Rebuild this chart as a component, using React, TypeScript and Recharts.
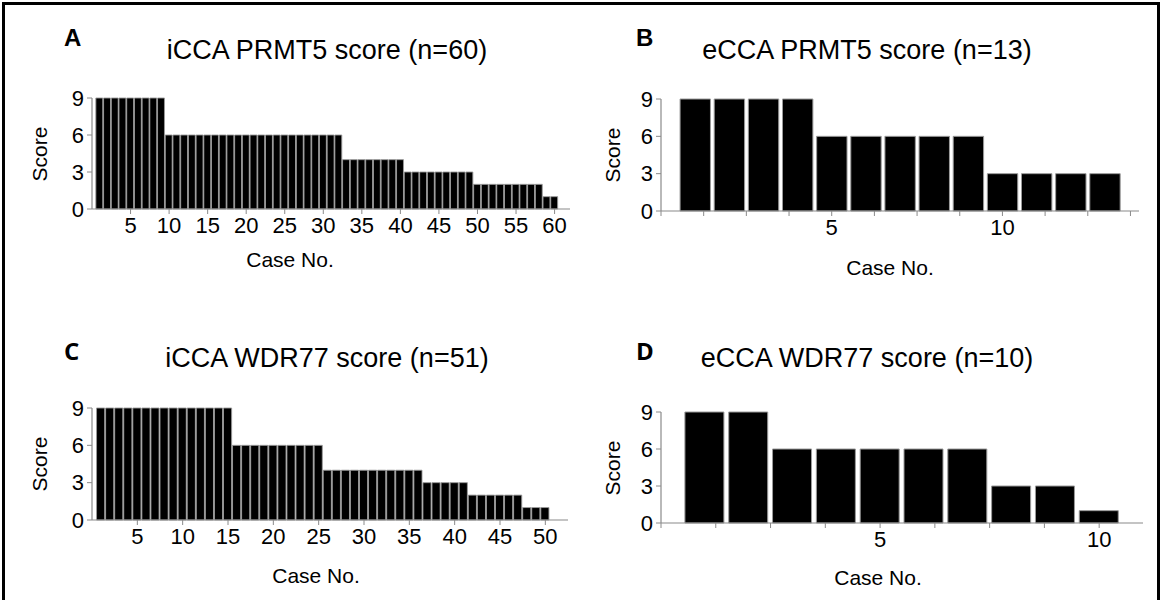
import React from 'react';
import { BarChart, Bar, XAxis, YAxis } from 'recharts';

// ---- Data ----
const casesA = [1,2,3,4,5,6,7,8,9,10,11,12,13,14,15,16,17,18,19,20,21,22,23,24,25,26,27,28,29,30,31,32,33,34,35,36,37,38,39,40,41,42,43,44,45,46,47,48,49,50,51,52,53,54,55,56,57,58,59,60];
const scoresA = [9,9,9,9,9,9,9,9,9,6,6,6,6,6,6,6,6,6,6,6,6,6,6,6,6,6,6,6,6,6,6,6,4,4,4,4,4,4,4,4,3,3,3,3,3,3,3,3,3,2,2,2,2,2,2,2,2,2,1,1];

const casesB = [1,2,3,4,5,6,7,8,9,10,11,12,13];
const scoresB = [9,9,9,9,6,6,6,6,6,3,3,3,3];

const casesC = [1,2,3,4,5,6,7,8,9,10,11,12,13,14,15,16,17,18,19,20,21,22,23,24,25,26,27,28,29,30,31,32,33,34,35,36,37,38,39,40,41,42,43,44,45,46,47,48,49,50,51];
const scoresC = [9,9,9,9,9,9,9,9,9,9,9,9,9,9,9,6,6,6,6,6,6,6,6,6,6,4,4,4,4,4,4,4,4,4,4,4,3,3,3,3,3,2,2,2,2,2,2,1,1,1,0];

const casesD = [1,2,3,4,5,6,7,8,9,10];
const scoresD = [9,9,6,6,6,6,6,3,3,1];

const yTicks = [0,3,6,9];
const xTicksA = [5,10,15,20,25,30,35,40,45,50,55,60];
const xTicksC = [5,10,15,20,25,30,35,40,45,50];
const xTicksSmall = [0,1.25,2.5,3.75,5,6.25,7.5,8.75,10,11.25,12.5,13.75];
const xLabelsSmall = [5,10];

const titles = ['iCCA PRMT5 score (n=60)','eCCA PRMT5 score (n=13)','iCCA WDR77 score (n=51)','eCCA WDR77 score (n=10)'];
const letters = ['A','B','C','D'];
const yLabel = 'Score';
const xLabel = 'Case No.';

const toRows = (cases: number[], scores: number[]) => cases.map((c, i) => ({ c, s: scores[i] }));

const FONT = '"Liberation Sans", Arial, sans-serif';
const AXIS = '#8a8a8a';

type PanelProps = {
  x0: number; x1: number; yTop: number; yBot: number;
  data: { c: number; s: number }[];
  xMax: number; xTicks: number[]; labelTicks?: number[];
  barFrac: number; stroke: string; strokeWidth: number;
  title: string; letter: string; letterFont: string;
  titleX: number; titleY: number; letterX: number; letterY: number;
  scoreX: number; caseX: number; caseY: number;
};

function Panel(p: PanelProps) {
  const left = p.x0 - 60;
  const top = p.yTop - 20;
  const cw = p.x1 - left + 20;
  const ch = p.yBot - top + 50;
  const plotW = p.x1 - p.x0;
  const barSize = (plotW / p.xMax) * p.barFrac;
  const cy = (p.yTop + p.yBot) / 2;
  const fmt = (v: number) => {
    if (!p.labelTicks) return String(v);
    return p.labelTicks.indexOf(v) >= 0 ? String(v) : '';
  };
  return (
    <>
      <div style={{ position: 'absolute', left: p.letterX, top: p.letterY, fontFamily: p.letterFont, fontWeight: 'bold', fontSize: 24, lineHeight: '24px', color: '#000' }}>{p.letter}</div>
      <div style={{ position: 'absolute', left: p.titleX - 250, width: 500, top: p.titleY - 16, textAlign: 'center', fontFamily: FONT, fontSize: 27, lineHeight: '32px', color: '#000', whiteSpace: 'nowrap' }}>{p.title}</div>
      <div style={{ position: 'absolute', left: p.scoreX - 50, width: 100, top: cy - 12, textAlign: 'center', fontFamily: FONT, fontSize: 21, lineHeight: '24px', color: '#000', transform: 'rotate(-90deg)' }}>{yLabel}</div>
      <div style={{ position: 'absolute', left: p.caseX - 100, width: 200, top: p.caseY - 12, textAlign: 'center', fontFamily: FONT, fontSize: 21, lineHeight: '24px', color: '#000' }}>{xLabel}</div>
      <div style={{ position: 'absolute', left, top }}>
        <BarChart width={cw} height={ch} data={p.data} margin={{ top: 20, right: 20, bottom: 20, left: 0 }}>
          <XAxis
            type="number"
            dataKey="c"
            domain={[0, p.xMax]}
            ticks={p.xTicks}
            interval={0}
            height={30}
            tickSize={5}
            tickMargin={3}
            tickFormatter={fmt}
            axisLine={{ stroke: AXIS, strokeWidth: 1.2 }}
            tickLine={{ stroke: AXIS, strokeWidth: 1 }}
            tick={{ fill: '#000', fontSize: 22, fontFamily: FONT }}
          />
          <YAxis
            type="number"
            domain={[0, 9]}
            ticks={yTicks}
            interval={0}
            width={60}
            tickSize={5}
            tickMargin={3}
            axisLine={{ stroke: AXIS, strokeWidth: 1.2 }}
            tickLine={{ stroke: AXIS, strokeWidth: 1 }}
            tick={{ fill: '#000', fontSize: 22, fontFamily: FONT }}
          />
          <Bar dataKey="s" fill="#000" stroke={p.stroke} strokeWidth={p.strokeWidth} barSize={barSize} isAnimationActive={false} />
        </BarChart>
      </div>
    </>
  );
}

export default function App() {
  return (
    <div style={{ position: 'absolute', left: 0, top: 0, width: 1162, height: 600, background: '#fff', overflow: 'hidden' }}>
      <div style={{ position: 'absolute', left: 2, top: 2, width: 1152, height: 620, borderLeft: '3px solid #000', borderTop: '3px solid #000', borderRight: '3px solid #000' }} />
      <Panel x0={92} x1={570} yTop={98} yBot={209} data={toRows(casesA, scoresA)} xMax={62} xTicks={xTicksA}
        barFrac={1} stroke="#9a9a9a" strokeWidth={0.9}
        title={titles[0]} letter={letters[0]} letterFont={FONT} titleX={327} titleY={50} letterX={64} letterY={26} scoreX={40} caseX={290} caseY={260} />
      <Panel x0={661} x1={1139} yTop={99} yBot={211} data={toRows(casesB, scoresB)} xMax={14} xTicks={xTicksSmall} labelTicks={xLabelsSmall}
        barFrac={0.89} stroke="#9a9a9a" strokeWidth={1}
        title={titles[1]} letter={letters[1]} letterFont={FONT} titleX={867} titleY={50} letterX={636} letterY={26} scoreX={613} caseX={890} caseY={268} />
      <Panel x0={92} x1={568} yTop={408} yBot={520} data={toRows(casesC, scoresC)} xMax={52.5} xTicks={xTicksC}
        barFrac={1} stroke="#9a9a9a" strokeWidth={0.9}
        title={titles[2]} letter={letters[2]} letterFont={'"Open Sans", "Liberation Sans", sans-serif'} titleX={327} titleY={358} letterX={64} letterY={339} scoreX={40} caseX={316} caseY={576} />
      <Panel x0={661} x1={1143} yTop={412} yBot={523} data={toRows(casesD, scoresD)} xMax={11} xTicks={xTicksSmall.slice(0, 9)} labelTicks={xLabelsSmall}
        barFrac={0.89} stroke="#9a9a9a" strokeWidth={1}
        title={titles[3]} letter={letters[3]} letterFont={'"Open Sans", "Liberation Sans", sans-serif'} titleX={867} titleY={358} letterX={636} letterY={339} scoreX={613} caseX={878} caseY={578} />
    </div>
  );
}
